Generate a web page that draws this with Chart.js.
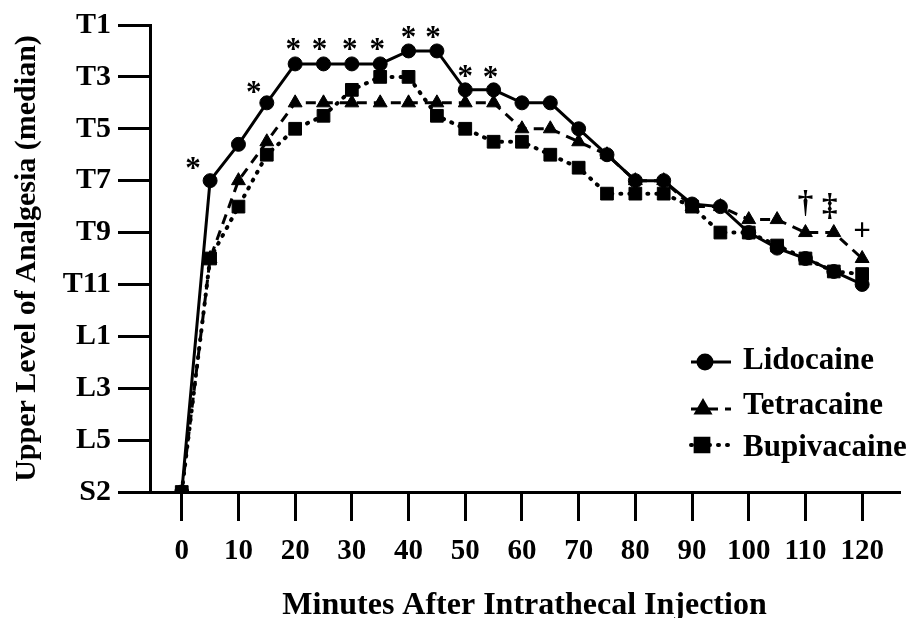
<!DOCTYPE html>
<html>
<head>
<meta charset="utf-8">
<script src="https://cdn.jsdelivr.net/npm/chart.js@4.4.0/dist/chart.umd.min.js"></script>
<style>
  html, body { margin: 0; padding: 0; background: #fff; }
  canvas { display: block; }
</style>
</head>
<body>
<canvas id="chart" width="909" height="618"></canvas>
<script>
// spinal level index: S2 = 0 ... T1 = 18
const minutes = [0, 5, 10, 15, 20, 25, 30, 35, 40, 45, 50, 55, 60, 65, 70, 75, 80, 85, 90, 95, 100, 105, 110, 115, 120];
const lidocaine = [0, 12, 13.4, 15, 16.5, 16.5, 16.5, 16.5, 17, 17, 15.5, 15.5, 15, 15, 14, 13, 12, 12, 11.1, 11, 10, 9.4, 9, 8.5, 8];
const tetracaine = [0, 9, 12, 13.5, 15, 15, 15, 15, 15, 15, 15, 15, 14, 14, 13.5, 13, 12, 12, 11, 11, 10.5, 10.5, 10, 10, 9];
const bupivacaine = [0, 9, 11, 13, 14, 14.5, 15.5, 16, 16, 14.5, 14, 13.5, 13.5, 13, 12.5, 11.5, 11.5, 11.5, 11, 10, 10, 9.5, 9, 8.5, 8.4];

const xTicks = [0, 10, 20, 30, 40, 50, 60, 70, 80, 90, 100, 110, 120];
const levelTicks = [0, 2, 4, 6, 8, 10, 12, 14, 16, 18];
const levelLabels = ['S2', 'L5', 'L3', 'L1', 'T11', 'T9', 'T7', 'T5', 'T3', 'T1'];

// significance marks
const starTimes = [5, 15, 20, 25, 30, 35, 40, 45, 50, 55];
const markTimes = [110, 115, 120];
const markSymbols = ['\u2020', '\u2021', '+'];

const FONT = '"Liberation Serif", "Times New Roman", serif';
const toPoints = (vals) => minutes.map((t, i) => ({ x: t, y: vals[i] }));

// pixel nudges for the marks (style only)
const starShift = [[-17, -18], [-13, -16], [-2, -20], [-4, -20], [-2, -20], [-3, -20], [0, -19], [-4, -19], [0, -19], [-3, -18]];
const markShift = [[0, -30], [-4, -27], [0, -29]];

function drawCentered(ctx, text, cx, cy) {
  const m = ctx.measureText(text);
  ctx.fillText(text, cx, cy + (m.actualBoundingBoxAscent - m.actualBoundingBoxDescent) / 2);
}

const overlay = {
  id: 'overlay',
  afterDatasetsDraw(chart) {
    const { ctx, scales: { x, y } } = chart;
    ctx.save();
    ctx.fillStyle = '#000';
    ctx.textAlign = 'center';
    ctx.textBaseline = 'alphabetic';

    ctx.font = 'bold 31px ' + FONT;
    starTimes.forEach((t, i) => {
      const v = lidocaine[minutes.indexOf(t)];
      drawCentered(ctx, '*', x.getPixelForValue(t) + starShift[i][0], y.getPixelForValue(v) + starShift[i][1]);
    });

    ctx.font = 'bold 31px ' + FONT;
    markTimes.forEach((t, i) => {
      const v = tetracaine[minutes.indexOf(t)];
      drawCentered(ctx, markSymbols[i], x.getPixelForValue(t) + markShift[i][0], y.getPixelForValue(v) + markShift[i][1]);
    });

    // legend
    const rows = [
      { lineY: 362, base: 369, mx: 705 },
      { lineY: 409, base: 414, mx: 703 },
      { lineY: 445, base: 456, mx: 702 }
    ];
    chart.data.datasets.forEach((ds, i) => {
      const r = rows[i];
      ctx.strokeStyle = '#000';
      ctx.lineWidth = ds.borderWidth;
      ctx.lineCap = ds.borderCapStyle || 'butt';
      ctx.setLineDash(ds.borderDash || []);
      ctx.beginPath();
      ctx.moveTo(691, r.lineY);
      ctx.lineTo(731, r.lineY);
      ctx.stroke();
      ctx.setLineDash([]);
      ctx.fillStyle = '#000';
      Chart.helpers.drawPoint(ctx, { pointStyle: ds.pointStyle, radius: ds.pointRadius, rotation: 0, borderWidth: 1 }, r.mx, r.lineY);
      ctx.textAlign = 'left';
      ctx.font = 'bold 31px ' + FONT;
      ctx.fillText(ds.label, 743, r.base);
    });
    ctx.restore();
  }
};

new Chart(document.getElementById('chart'), {
  type: 'line',
  data: {
    datasets: [
      {
        label: 'Lidocaine',
        data: toPoints(lidocaine),
        borderColor: '#000',
        backgroundColor: '#000',
        borderWidth: 3,
        pointStyle: 'circle',
        pointRadius: 7,
        pointBorderWidth: 1
      },
      {
        label: 'Tetracaine',
        data: toPoints(tetracaine),
        borderColor: '#000',
        backgroundColor: '#000',
        borderWidth: 3,
        borderDash: [10, 7],
        pointStyle: 'triangle',
        pointRadius: 8,
        pointBorderWidth: 1
      },
      {
        label: 'Bupivacaine',
        data: toPoints(bupivacaine),
        borderColor: '#000',
        backgroundColor: '#000',
        borderWidth: 4,
        borderDash: [1, 8],
        borderCapStyle: 'round',
        pointStyle: 'rect',
        pointRadius: 9,
        pointBorderWidth: 1
      }
    ]
  },
  options: {
    responsive: false,
    animation: false,
    devicePixelRatio: 1,
    layout: { padding: { top: 22, right: 2, left: 0, bottom: 0 } },
    plugins: {
      legend: { display: false },
      tooltip: { enabled: false }
    },
    elements: { line: { tension: 0 } },
    scales: {
      x: {
        type: 'linear',
        min: -5.6,
        max: 126.5,
        afterBuildTicks: (s) => { s.ticks = xTicks.map(v => ({ value: v })); },
        afterFit: (s) => { s.height = 126; },
        border: { color: '#000', width: 3 },
        grid: { drawOnChartArea: false, color: '#000', lineWidth: 3, tickLength: 29 },
        ticks: { color: '#000', padding: 13, maxRotation: 0, font: { family: FONT, size: 29, weight: 'bold' } },
        title: {
          display: true,
          text: 'Minutes After Intrathecal Injection',
          color: '#000',
          padding: 0,
          font: { family: FONT, size: 32, weight: 'bold', lineHeight: 0.75 }
        }
      },
      y: {
        min: 0,
        max: 18,
        afterBuildTicks: (s) => { s.ticks = levelTicks.map(v => ({ value: v })); },
        afterFit: (s) => { s.width = 150; },
        border: { color: '#000', width: 3 },
        grid: { drawOnChartArea: false, color: '#000', lineWidth: 3, tickLength: 32 },
        ticks: {
          color: '#000',
          padding: 7,
          font: { family: FONT, size: 30, weight: 'bold' },
          callback: (v) => levelLabels[levelTicks.indexOf(v)]
        },
        title: {
          display: true,
          text: 'Upper Level of Analgesia (median)',
          color: '#000',
          padding: { top: 9, bottom: 0 },
          font: { family: FONT, size: 30, weight: 'bold' }
        }
      }
    }
  },
  plugins: [overlay]
});
</script>
</body>
</html>
